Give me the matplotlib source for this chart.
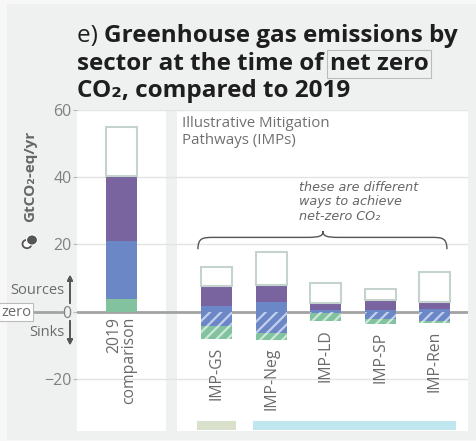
"""
Sector emissions at the time of net zero CO2 vs 2019 (IMPs).
"""
import matplotlib
matplotlib.use("Agg")
import matplotlib.pyplot as plt
from matplotlib.patches import Rectangle, Circle, PathPatch
from matplotlib.path import Path
from matplotlib.lines import Line2D

# ── Data (GtCO2-eq/yr) ─────────────────────────────────────────────────────
categories = ["2019\ncomparison", "IMP-GS", "IMP-Neg", "IMP-LD", "IMP-SP", "IMP-Ren"]
green_src  = [3.9, 0.0, 0.0, 0.0, 0.0, 0.0]
blue_src   = [17.2, 1.8, 2.9, 0.5, 0.5, 0.8]
purple_src = [19.4, 5.9, 5.1, 2.1, 3.0, 2.1]
other_src  = [14.5, 5.5, 9.8, 5.9, 3.2, 8.8]
blue_sink  = [0.0, -4.2, -6.2, -0.3, -2.1, -2.8]
green_sink = [0.0, -3.8, -2.2, -2.6, -1.6, -0.5]
yticks     = [-20, 0, 20, 40, 60]

# ── Style ──────────────────────────────────────────────────────────────────
W, H = 476, 441
FIG_BG   = "#f7f7f7"
PANEL_BG = "#eff1f0"
GREEN    = "#82c29e"
BLUE     = "#6b87c5"
PURPLE   = "#7a64a0"
OUTLINE  = "#c5d3cf"
GRID     = "#e2e4e2"
ZERO     = "#a3a3a3"
TXT      = "#6a6a6a"
DARK     = "#1e1e1e"
FONT     = ["Open Sans", "DejaVu Sans"]

plt.rcParams["font.family"] = FONT
plt.rcParams["hatch.linewidth"] = 1.6


def fx(px):
    return px / W


def fy(py):
    return 1 - py / H


fig = plt.figure(figsize=(W / 100, H / 100), dpi=100)
fig.patch.set_facecolor(FIG_BG)
fig.patches.append(Rectangle((fx(7), fy(440)), fx(W - 7), (440 - 4) / H,
                             transform=fig.transFigure, facecolor=PANEL_BG,
                             edgecolor="none", zorder=-10))

ax = fig.add_axes([fx(77), fy(431), (468 - 77) / W, (431 - 110) / H])
ax.set_facecolor("white")
ax.set_axisbelow(True)

x = [0, 1.74, 2.74, 3.74, 4.74, 5.74]
bw = 0.57

# gap between the 2019 panel and the IMP panel
ax.axvspan(0.815, 1.01, color=PANEL_BG, zorder=0.1, lw=0)
ax.axhline(0, color=ZERO, lw=2, zorder=1)

b1 = green_src
b2 = [a + b for a, b in zip(b1, blue_src)]
b3 = [a + b for a, b in zip(b2, purple_src)]
ax.bar(x, green_src, width=bw, color=GREEN, lw=0, zorder=2)
ax.bar(x, blue_src, bottom=b1, width=bw, color=BLUE, lw=0, zorder=2)
ax.bar(x, purple_src, bottom=b2, width=bw, color=PURPLE, lw=0, zorder=2)
ax.bar(x, other_src, bottom=b3, width=bw, color="white", edgecolor=OUTLINE,
       lw=1.5, zorder=2)

ax.bar(x, blue_sink, width=bw, color=BLUE, edgecolor="#c3cfee", hatch="///",
       lw=0, zorder=2)
ax.bar(x, green_sink, bottom=blue_sink, width=bw, color=GREEN,
       edgecolor="#cbe8d8", hatch="///", lw=0, zorder=2)

# category labels below each bar
lows = [a + b for a, b in zip(blue_sink, green_sink)]
for xi, lo, lab in zip(x, lows, categories):
    off = -5 if lo == 0 else -8
    ax.annotate(lab, (xi, lo), xytext=(0, off), textcoords="offset pixels",
                rotation=90, ha="center", va="top", multialignment="right",
                color=TXT, fontsize=11.3, linespacing=0.92)

# group strips at the bottom
ax.add_patch(Rectangle((x[1] - 0.36, -35.2), 0.72, 2.7, color="#d9e0cc",
                       lw=0, zorder=1))
ax.add_patch(Rectangle((x[2] - 0.33, -35.2), x[5] - x[2] + 0.72, 2.7,
                       color="#c0e6f0", lw=0, zorder=1))

# brace over the IMPs
xl, xr, xm = 1.40, 5.96, 3.69
yb, yt, yp = 18.6, 22.1, 24.0
verts = [(xl, yb), (xl, yt), (xl + 0.1, yt), (xl + 0.3, yt),
         (xm - 0.3, yt), (xm - 0.05, yt), (xm, yt + 0.4), (xm, yp),
         (xm, yt + 0.4), (xm + 0.05, yt), (xm + 0.3, yt),
         (xr - 0.3, yt), (xr - 0.1, yt), (xr, yt), (xr, yb)]
codes = [Path.MOVETO, Path.CURVE4, Path.CURVE4, Path.CURVE4,
         Path.LINETO, Path.CURVE4, Path.CURVE4, Path.CURVE4,
         Path.CURVE4, Path.CURVE4, Path.CURVE4,
         Path.LINETO, Path.CURVE4, Path.CURVE4, Path.CURVE4]
ax.add_patch(PathPatch(Path(verts, codes), facecolor="none",
                       edgecolor="#555555", lw=1, zorder=3))

ax.set_xlim(-0.815, 6.346)
ax.set_ylim(-35.5, 60)
ax.set_xticks([])
ax.set_yticks(yticks)
ax.set_yticklabels([f"{t}".replace("-", "\u2212") for t in yticks])
ax.tick_params(axis="y", colors="#bbbbbb", labelcolor="#808080",
               labelsize=11.5, length=3, pad=1)
ax.yaxis.grid(True, color=GRID, lw=1)
for s in ax.spines.values():
    s.set_visible(False)

# ── Texts inside the plot ──────────────────────────────────────────────────
fig.text(fx(182), fy(116), "Illustrative Mitigation\nPathways (IMPs)",
         ha="left", va="top", color="#707070", fontsize=10.8, linespacing=1.2)
fig.text(fx(299), fy(181), "these are different\nways to achieve\nnet-zero CO\u2082",
         ha="left", va="top", color="#666666", fontsize=9.2, style="italic",
         family=["DejaVu Sans"], linespacing=1.15)

# ── Y label, icon, sources / sinks, zero box ───────────────────────────────
fig.text(fx(30), fy(176), "GtCO\u2082-eq/yr", rotation=90, ha="center",
         va="center", color="#666666", fontsize=11, fontweight="bold")
fig.patches.append(Circle((fx(27), fy(244)), 4.5 / W, transform=fig.transFigure,
                          facecolor="white", edgecolor="#555555", lw=1.3))
fig.patches.append(Circle((fx(32), fy(240)), 5.5 / W, transform=fig.transFigure,
                          facecolor="#555555", edgecolor="white", lw=0.8))

fig.text(fx(64), fy(290), "Sources", ha="right", va="center", color=TXT,
         fontsize=10.5)
fig.text(fx(64), fy(332), "Sinks", ha="right", va="center", color=TXT,
         fontsize=10.5)
fig.add_artist(plt.annotate("", xy=(fx(70), fy(272)), xytext=(fx(70), fy(306)),
                            xycoords="figure fraction",
                            arrowprops=dict(arrowstyle="-|>", color="#555555",
                                            lw=1.2, mutation_scale=8)))
fig.add_artist(plt.annotate("", xy=(fx(70), fy(348)), xytext=(fx(70), fy(318)),
                            xycoords="figure fraction",
                            arrowprops=dict(arrowstyle="-|>", color="#555555",
                                            lw=1.2, mutation_scale=8)))

fig.text(fx(1), fy(312), "zero", ha="left", va="center", color=TXT,
         fontsize=10.5,
         bbox=dict(boxstyle="square,pad=0.12", facecolor="white",
                   edgecolor="#bbbbbb", lw=0.8))
fig.add_artist(Line2D([fx(31), fx(62)], [fy(312), fy(312)], color=ZERO, lw=2,
                      transform=fig.transFigure))

# ── Title (mixed weight, boxed words) ──────────────────────────────────────
r = fig.canvas.get_renderer()
TS = 17.5


def put(px, base, s, **kw):
    t = fig.text(fx(px), fy(base), s, ha="left", va="baseline", color=DARK,
                 fontsize=TS, **kw)
    bb = t.get_window_extent(r)
    return t, px + bb.width


_, nx = put(77, 42, "e) ", fontweight="normal")
put(nx, 42, "Greenhouse gas emissions by", fontweight="bold")
_, nx = put(77, 70, "sector at the time of ", fontweight="bold")
put(nx, 70, "net zero", fontweight="bold",
    bbox=dict(boxstyle="square,pad=0.1", facecolor="none",
              edgecolor="#bbbbbb", lw=0.8))
put(77, 97, "CO\u2082, compared to 2019", fontweight="bold")

fig.savefig("out.png", dpi=100, facecolor=FIG_BG)
